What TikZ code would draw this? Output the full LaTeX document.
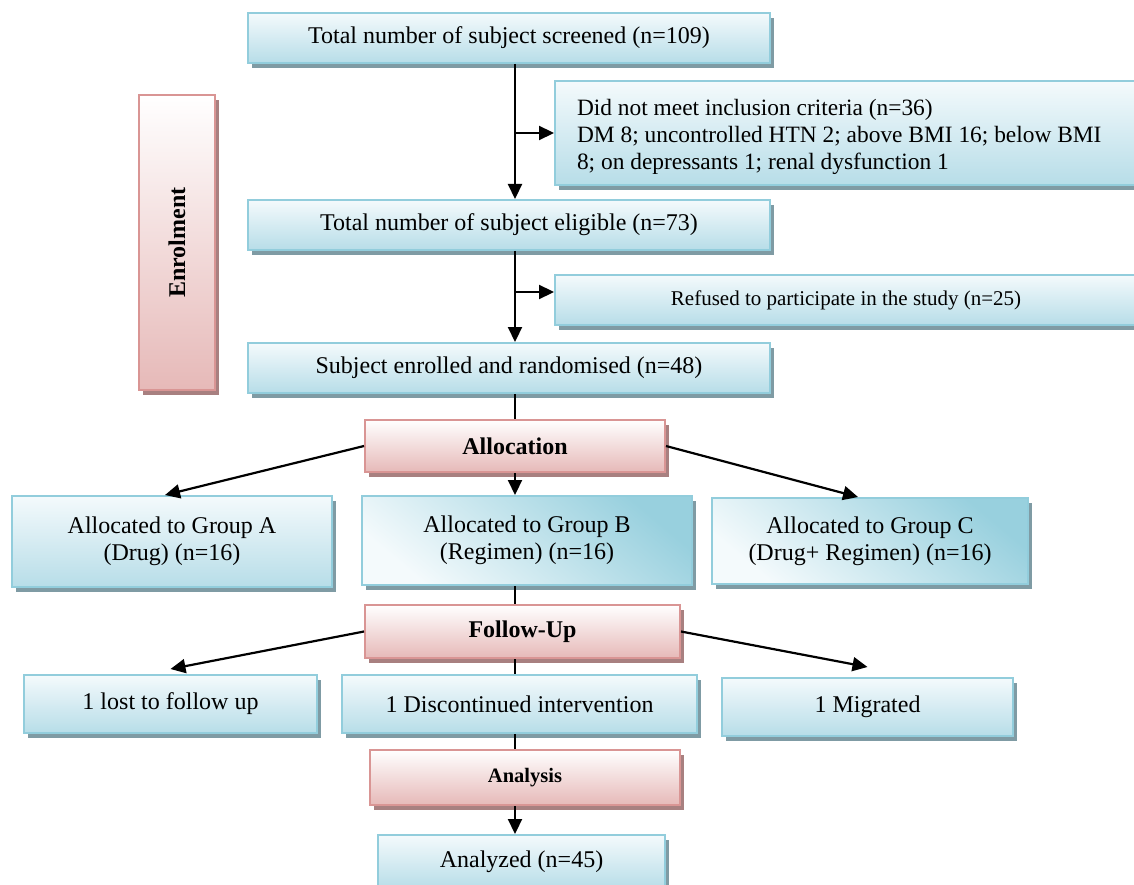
\documentclass[tikz,border=0pt]{standalone}
\usepackage{fontspec}
\setmainfont{Liberation Serif}
\usetikzlibrary{shadows,arrows.meta,calc}
\definecolor{bB}{HTML}{92CDDC}
\definecolor{bT}{HTML}{F4FAFC}
\definecolor{bF}{HTML}{B7DDE8}
\definecolor{bD}{HTML}{98D0DE}
\definecolor{bS}{HTML}{7F9BA4}
\definecolor{rB}{HTML}{D99594}
\definecolor{rF}{HTML}{E6B9B8}
\definecolor{rS}{HTML}{A88080}
\tikzset{
  boxbase/.style={line width=2pt, inner sep=0pt, align=center,
    font=\fontsize{24}{27}\selectfont},
  bluebox/.style={boxbase, draw=bB, top color=bT, bottom color=bF,
    drop shadow={shadow xshift=4pt, shadow yshift=-5pt, fill=bS, opacity=1}},
  diagbox/.style={boxbase, draw=bB, shading=axis, top color=bD, bottom color=bT, shading angle=-40,
    drop shadow={shadow xshift=4pt, shadow yshift=-5pt, fill=bS, opacity=1}},
  redbox/.style={boxbase, draw=rB, top color=white, bottom color=rF,
    font=\fontsize{24}{27}\selectfont\bfseries,
    drop shadow={shadow xshift=4pt, shadow yshift=-5pt, fill=rS, opacity=1}},
  arr/.style={line width=2.2pt, -{Triangle[length=15pt,width=14pt]}},
  ln/.style={line width=2.2pt},
}
\begin{document}
\begin{tikzpicture}[x=1pt,y=-1pt]
\useasboundingbox (0,0) rectangle (1134,885);
\coordinate (col) at (515,0);
\node[bluebox, minimum width=522pt, minimum height=50pt] (s) at (509,38) {Total number of subject screened (n=109)};
\node[bluebox, minimum width=600pt, minimum height=104pt, font=\fontsize{23.4}{27}\selectfont] (d) at (855,133)
  {\raisebox{-4pt}[\height][\depth]{\parbox{556pt}{\raggedright Did not meet inclusion criteria (n=36)\\DM 8; uncontrolled HTN 2; above BMI 16; below BMI\\8; on depressants 1; renal dysfunction 1}}};
\node[bluebox, minimum width=522pt, minimum height=50pt] (e) at (509,225) {Total number of subject eligible (n=73)};
\node[bluebox, minimum width=600pt, minimum height=50pt, font=\fontsize{21}{24}\selectfont] (r) at (855,300) {\hspace*{-18pt}Refused to participate in the study (n=25)};
\node[bluebox, minimum width=522pt, minimum height=50pt] (en) at (509,368) {Subject enrolled and randomised (n=48)};
\node[redbox, minimum width=76pt, minimum height=295pt, font=\fontsize{24}{27}\selectfont\bfseries] (enr) at (177,242.5) {\rotatebox{90}{Enrolment}};
\node[redbox, minimum width=300pt, minimum height=52pt] (al) at (515,446) {Allocation};
\node[bluebox, minimum width=320pt, minimum height=91pt] (A) at (172,541.5) {Allocated to Group A\\(Drug) (n=16)};
\node[diagbox, minimum width=330pt, minimum height=89pt] (B) at (527,540.5) {Allocated to Group B\\(Regimen) (n=16)};
\node[diagbox, minimum width=316pt, minimum height=86pt] (C) at (870,541) {Allocated to Group C\\(Drug+ Regimen) (n=16)};
\node[redbox, minimum width=315pt, minimum height=53pt] (fu) at (522.5,631.5) {Follow-Up};
\node[bluebox, minimum width=293pt, minimum height=58pt] (L) at (170.5,704) {1 lost to follow up};
\node[bluebox, minimum width=355pt, minimum height=58pt] (D) at (519.5,704) {1 Discontinued intervention};
\node[bluebox, minimum width=291pt, minimum height=58pt] (M) at (867.5,707) {1 Migrated};
\node[redbox, minimum width=310pt, minimum height=55pt, font=\fontsize{20.5}{24}\selectfont\bfseries] (an) at (525,777.5) {Analysis};
\node[bluebox, minimum width=287pt, minimum height=54pt] (Z) at (521.5,862) {Analyzed (n=45)};
% connectors
\draw[arr] (s.south -| col) -- (e.north -| col);
\draw[arr] (d.west -| col) -- (d.west);
\draw[arr] (e.south -| col) -- (en.north -| col);
\draw[arr] ([yshift=8pt]r.west -| col) -- ([yshift=8pt]r.west);
\draw[ln] (en.south -| col) -- (al.north -| col);
\draw[arr] (al.south -| col) -- (B.north -| col);
\draw[arr] (al.west) -- ([xshift=-7pt]A.north);
\draw[arr] (al.east) -- ([xshift=-12pt]C.north);
\draw[ln] (B.south -| col) -- (fu.north -| col);
\draw[arr] (fu.west) -- ([yshift=5pt]L.north);
\draw[arr] (fu.east) -- ([yshift=10pt]M.north);
\draw[ln] (fu.south -| col) -- (D.north -| col);
\draw[ln] (D.south -| col) -- (an.north -| col);
\draw[arr] (an.south -| col) -- (Z.north -| col);
\end{tikzpicture}
\end{document}
